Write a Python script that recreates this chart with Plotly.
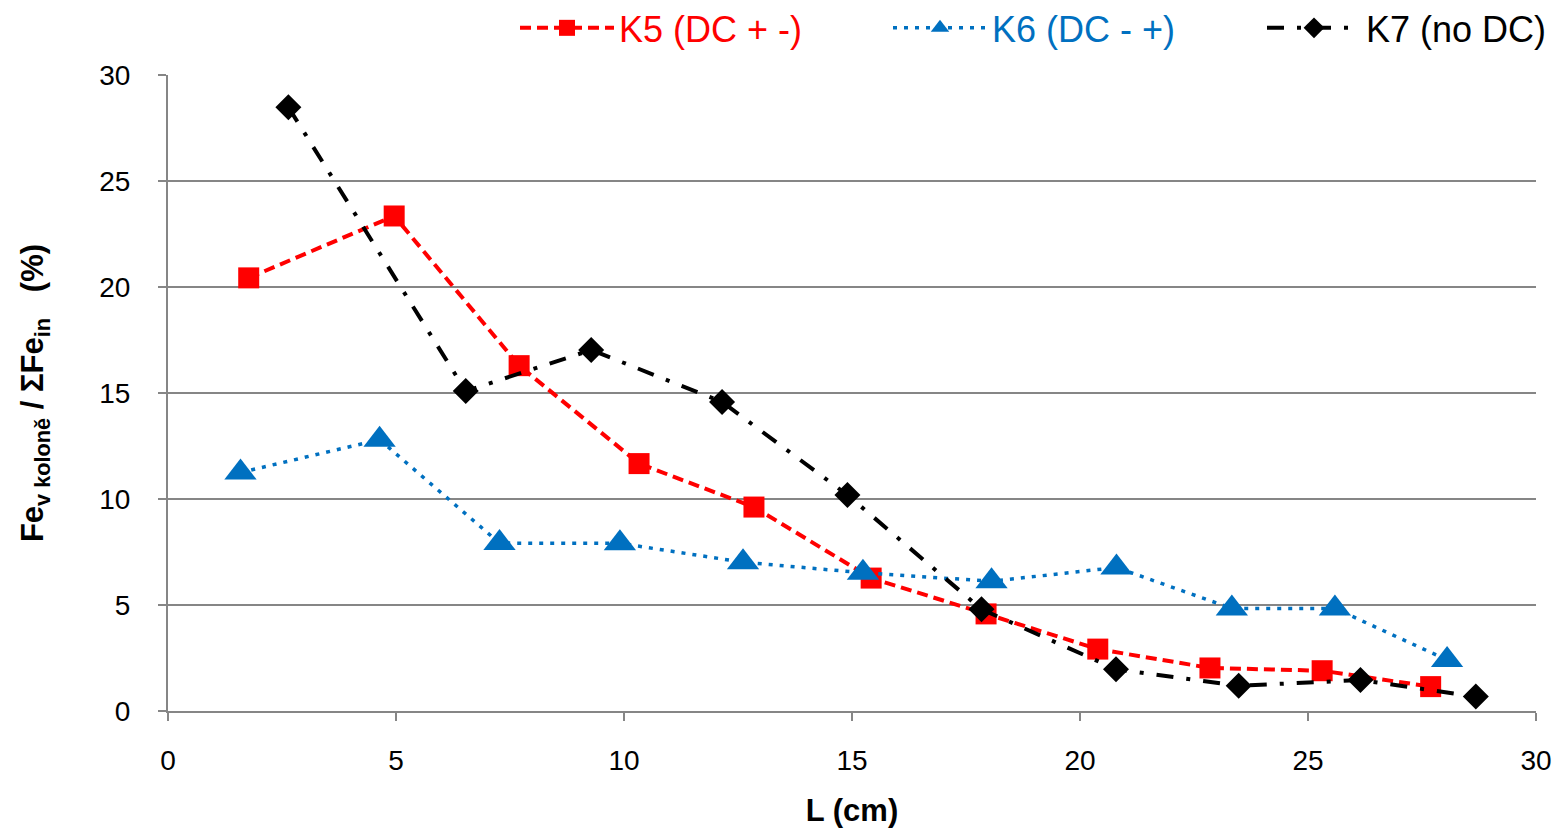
import plotly.graph_objects as go

# Data
k5_x = [1.77, 4.96, 7.70, 10.33, 12.85, 15.42, 17.94, 20.39, 22.85, 25.31, 27.69]
k5_y = [20.43, 23.35, 16.29, 11.67, 9.62, 6.27, 4.58, 2.92, 2.03, 1.90, 1.15]

k6_x = [1.59, 4.64, 7.27, 9.91, 12.61, 15.24, 18.06, 20.80, 23.33, 25.59, 28.05]
k6_y = [11.25, 12.80, 7.92, 7.91, 7.02, 6.52, 6.12, 6.77, 4.84, 4.84, 2.41]

k7_x = [2.64, 6.53, 9.28, 12.15, 14.90, 17.84, 20.79, 23.48, 26.15, 28.68]
k7_y = [28.48, 15.09, 17.03, 14.58, 10.19, 4.80, 1.97, 1.19, 1.46, 0.68]

names = ["K5 (DC + -)", "K6 (DC - +)", "K7 (no DC)"]
x_ticks = [0, 5, 10, 15, 20, 25, 30]
y_ticks = [0, 5, 10, 15, 20, 25, 30]

FONT = "Liberation Sans, Arial, sans-serif"
GRID = "#868686"

fig = go.Figure()
fig.add_trace(go.Scatter(
    x=k5_x, y=k5_y, name=names[0], mode="lines+markers", legend="legend",
    line=dict(color="#FF0000", width=4, dash="11px,6px"),
    marker=dict(symbol="square", size=21, color="#FF0000"),
))
fig.add_trace(go.Scatter(
    x=k6_x, y=k6_y, name=names[1], mode="lines+markers", legend="legend2",
    line=dict(color="#0070C0", width=3.5, dash="4px,7px"),
    marker=dict(symbol="triangle-up", size=28, color="#0070C0"),
))
fig.add_trace(go.Scatter(
    x=k7_x, y=k7_y, name=names[2], mode="lines+markers", legend="legend3",
    line=dict(color="#000000", width=4, dash="17px,13px,4px,13px"),
    marker=dict(symbol="diamond", size=20, color="#000000"),
))

# page body has an 8px default margin, so the figure is offset by 8px
L, R, T, B = 160, 32, 67, 127
PW = 1560 - L - R


def leg(px, color):
    return dict(
        orientation="h", x=(px - L) / PW, xanchor="left",
        y=1.074, yanchor="middle",
        font=dict(size=36, family=FONT, color=color),
        itemwidth=94, bgcolor="rgba(0,0,0,0)", borderwidth=0,
    )


fig.update_layout(
    width=1560, height=830,
    margin=dict(l=L, r=R, t=T, b=B, autoexpand=False),
    paper_bgcolor="white", plot_bgcolor="white",
    font=dict(family=FONT, color="black", size=28),
    showlegend=True,
    legend=leg(507, "#FF0000"),
    legend2=leg(880, "#0070C0"),
    legend3=leg(1254, "#000000"),
    xaxis=dict(
        range=[0, 30], tickvals=x_ticks, showgrid=False, zeroline=False,
        showline=True, linecolor=GRID, linewidth=2, automargin=False,
        ticks="outside", ticklen=8, tickwidth=2, tickcolor=GRID,
        ticklabelstandoff=15,
        tickfont=dict(size=28, family=FONT),
        title=dict(text="<b>L (cm)</b>", font=dict(size=31, family=FONT), standoff=25),
    ),
    yaxis=dict(
        range=[0, 30], tickvals=y_ticks, showgrid=True, gridcolor=GRID, gridwidth=2,
        zeroline=False, showline=True, linecolor=GRID, linewidth=2, automargin=False,
        ticks="outside", ticklen=8, tickwidth=2, tickcolor=GRID,
        ticklabelstandoff=22,
        tickfont=dict(size=28, family=FONT),
        title=dict(text="<b>Fe<sub>v koloně</sub> / ΣFe<sub>in</sub>   (%)</b>",
                   font=dict(size=31, family=FONT), standoff=46),
    ),
)

fig.write_html("out.html")
